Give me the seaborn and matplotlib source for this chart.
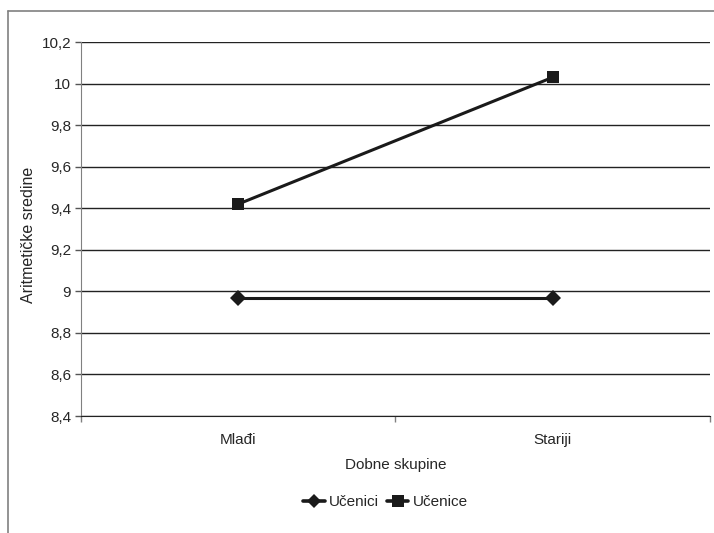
import pandas as pd
import seaborn as sns
import matplotlib.pyplot as plt
from matplotlib.lines import Line2D

# podaci
skupine = ['Mlađi', 'Stariji']
ucenici = [8.97, 8.97]
ucenice = [9.42, 10.03]
y_ticks = [8.4, 8.6, 8.8, 9.0, 9.2, 9.4, 9.6, 9.8, 10.0, 10.2]
y_labels = ['8,4', '8,6', '8,8', '9', '9,2', '9,4', '9,6', '9,8', '10', '10,2']

df = pd.DataFrame({
    'Dobne skupine': skupine * 2,
    'Vrijednost': ucenici + ucenice,
    'Spol': ['Učenici'] * 2 + ['Učenice'] * 2,
})

sns.set_style('white')
plt.rcParams['font.family'] = ['Liberation Sans', 'DejaVu Sans']

fig = plt.figure(figsize=(7.14, 5.33), dpi=100)
ax = fig.add_axes([0.1134, 0.2195, 0.881, 0.7017])

sns.lineplot(data=df, x='Dobne skupine', y='Vrijednost', hue='Spol', style='Spol',
             markers={'Učenici': 'D', 'Učenice': 's'}, dashes=False,
             palette={'Učenici': '#1a1a1a', 'Učenice': '#1a1a1a'},
             linewidth=2.2, markersize=8, markeredgewidth=0, ax=ax, legend=False)

ax.set_xlim(-0.5, 1.5)
ax.set_ylim(8.4, 10.2)
ax.set_yticks(y_ticks)
ax.set_yticklabels(y_labels, fontsize=11)
ax.set_xticks([0, 1])
ax.set_xticklabels(skupine, fontsize=11)
ax.set_xticks([-0.5, 0.5, 1.5], minor=True)
ax.tick_params(axis='x', which='major', length=0, pad=12)
ax.tick_params(axis='x', which='minor', length=4, width=1, color='#808080', direction='out', bottom=True)
ax.tick_params(axis='y', length=4, width=1, color='#555555', direction='out', left=True, pad=3)

for y in y_ticks:
    ax.axhline(y, color='#222222', linewidth=1, zorder=0)

for s in ['top', 'right']:
    ax.spines[s].set_visible(False)
ax.spines['left'].set_color('#808080')
ax.spines['bottom'].set_color('#222222')

ax.set_xlabel('Dobne skupine', fontsize=11, labelpad=8)
ax.set_ylabel('Aritmetičke sredine', fontsize=11.5)
ax.yaxis.set_label_coords(-0.071, 0.484)

handles = [
    Line2D([], [], color='#1a1a1a', marker='D', markersize=7, linewidth=2.6, markeredgewidth=0),
    Line2D([], [], color='#1a1a1a', marker='s', markersize=9, linewidth=2.6, markeredgewidth=0),
]
fig.legend(handles, ['Učenici', 'Učenice'], loc='center', bbox_to_anchor=(0.54, 0.058),
           ncol=2, frameon=False, fontsize=11, handlelength=1.4, handletextpad=0.3,
           columnspacing=0.5)

# okvir grafikona
fig.add_artist(Line2D([8 / 714, 1], [1 - 10.5 / 533] * 2, color='#808080', linewidth=1.2))
fig.add_artist(Line2D([8 / 714] * 2, [0, 1 - 10.5 / 533], color='#808080', linewidth=1.2))

fig.savefig('out.png', dpi=100)
